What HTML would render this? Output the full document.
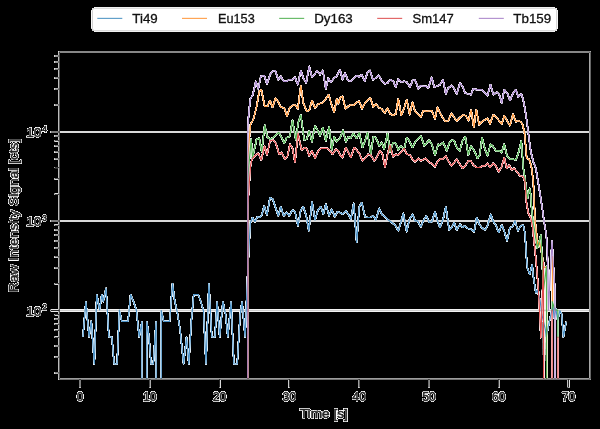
<!DOCTYPE html>
<html><head><meta charset="utf-8"><title>plot</title>
<style>
html,body{margin:0;padding:0;background:#000}
body{width:600px;height:429px;overflow:hidden}
svg{display:block}
text{font-family:"Liberation Sans",sans-serif;fill:#262626}
.c{fill:none;stroke-width:1.19;stroke-linejoin:round;stroke-linecap:butt}
.g{stroke:#cccccc;stroke-width:1.3}
.s{stroke:#262626;stroke-width:1.1;fill:none}
.M{stroke:#262626;stroke-width:1.2}
.m{stroke:#262626;stroke-width:0.95}
.u{stroke:#fff;fill:#fff;stroke-width:0.85;stroke-linejoin:round}
.o{stroke:#262626;stroke-width:0.6}
.l{fill:#111;stroke:#111;stroke-width:0.3}
</style></head><body>
<svg width="600" height="429" viewBox="0 0 600 429">
<defs>
<filter id="h" x="0" y="0" width="600" height="429" filterUnits="userSpaceOnUse" color-interpolation-filters="sRGB">
<feFlood flood-color="#fff" result="w"/>
<feComposite in="SourceGraphic" in2="w" operator="over" result="c"/>
<feComponentTransfer in="SourceGraphic" result="m"><feFuncA type="linear" slope="12" intercept="0"/></feComponentTransfer>
<feComposite in="c" in2="m" operator="in"/>
</filter>
<clipPath id="ax"><rect x="59.25" y="52.0" width="530.9" height="327.1"/></clipPath>
</defs>
<rect width="600" height="429" fill="#000"/>
<g filter="url(#h)">
<line class="g" x1="59.25" x2="590.15" y1="310.50" y2="310.50"/>
<line class="g" x1="59.25" x2="590.15" y1="221.00" y2="221.00"/>
<line class="g" x1="59.25" x2="590.15" y1="132.00" y2="132.00"/>
<g clip-path="url(#ax)">
<path class="c" stroke="#4a91c6" d="M82.9 337.0L85.9 301.5L87.6 321.0L89.1 337.0L91.3 321.0L94.3 364.0L96.8 294.5L99.6 310.0L101.8 294.5L103.2 301.6L106.0 288.3L108.9 337.0L111.8 337.0L114.2 364.0L117.1 364.0L119.4 310.0L121.8 321.4L128.0 321.4L130.6 294.5L133.5 301.6L136.4 310.2L139.2 337.0L141.9 321.5L141.9 400.0M146.8 400.0L146.8 321.5L149.0 337.0L151.0 364.0L153.3 364.0L156.1 321.5L156.1 400.0M161.2 400.0L161.2 310.5L163.8 321.4L169.6 321.4L172.5 283.5L174.6 300.0L177.4 313.0L180.1 330.0L183.6 364.0L186.5 337.0L188.8 364.0L191.3 321.4L193.7 294.6L198.3 294.6L200.8 301.6L203.5 311.0L206.0 364.0L208.9 283.5L211.8 337.0L214.9 337.0L217.1 301.6L219.7 337.0L222.9 301.6L225.5 313.8L227.8 337.0L231.0 301.6L233.9 364.0L237.2 364.0L240.1 315.0L242.1 301.6L245.1 337.0L247.7 272.0L250.3 223.0L252.5 217.5L255.0 221.7L257.5 216.7L260.0 217.5L261.7 215.0L264.2 205.8L267.0 215.0L270.0 197.5L272.8 199.2L275.8 208.3L278.3 215.8L280.8 206.7L283.7 215.8L286.7 212.5L289.2 215.8L292.5 210.0L295.0 211.7L298.0 225.8L300.8 210.0L303.3 206.7L306.3 215.8L308.8 230.8L312.0 201.7L315.0 220.0L318.0 210.0L320.8 206.7L323.3 214.2L325.8 204.2L329.2 215.8L331.7 209.2L334.7 216.7L337.5 211.7L340.0 212.5L342.5 214.2L345.8 210.8L348.3 214.2L350.8 219.2L353.7 203.3L356.7 242.5L359.2 206.7L361.7 202.5L365.0 216.7L367.5 217.5L370.0 217.5L373.3 215.8L375.8 220.0L379.2 208.3L381.7 214.2L385.0 216.7L388.3 220.0L391.7 222.5L395.0 225.0L398.3 230.8L400.8 222.5L403.3 213.3L406.7 231.7L409.2 220.0L412.5 214.2L415.0 220.8L417.5 220.8L420.8 226.7L423.3 220.8L426.3 215.8L429.2 222.5L431.7 221.7L435.0 211.7L437.5 220.8L440.0 227.5L443.3 218.3L445.8 206.7L449.2 230.0L451.7 227.5L454.2 222.5L456.7 230.0L460.0 224.2L462.5 227.5L465.0 225.8L467.5 228.3L470.8 229.2L474.2 231.7L476.7 217.5L479.2 224.2L481.7 227.5L485.0 230.0L487.5 225.8L490.8 214.2L493.3 221.7L495.8 225.0L498.7 232.5L501.7 225.0L504.2 230.8L507.0 240.8L510.0 227.5L512.5 226.7L515.0 220.8L518.0 230.8L520.8 225.8L523.3 225.0L525.0 233.3L525.8 246.7L526.7 260.8L527.5 268.3L529.7 274.2L532.2 264.7L533.3 276.0L535.8 293.0L537.2 290.0L540.1 300.2L541.8 314.2L545.3 329.3L546.2 337.0L549.4 321.4L552.9 305.4L554.1 317.7L555.8 308.3L557.6 320.0L559.9 310.7L561.7 314.2L563.4 337.0L566.1 321.8"/>
<path class="c" stroke="#ff983c" d="M247.8 400.0L247.8 158.0L250.5 124.3L253.3 119.7L256.7 106.3L259.2 91.3L261.3 89.7L264.7 106.3L267.5 106.3L270.0 100.5L272.5 107.2L275.5 98.0L278.3 102.2L280.8 107.2L284.2 108.0L287.0 116.3L289.5 108.0L292.5 105.5L295.0 104.7L297.8 108.8L300.8 85.5L303.3 103.0L306.7 111.3L309.2 110.5L312.0 100.5L315.0 108.0L318.3 103.8L322.5 103.0L325.8 98.8L328.7 94.7L331.3 103.8L334.2 112.2L336.7 98.8L338.3 103.8L340.0 98.0L342.5 96.3L345.5 108.8L348.3 106.3L350.8 104.7L353.3 105.5L356.7 102.2L359.2 101.3L362.0 108.8L365.0 103.0L368.0 99.7L370.5 98.0L373.3 107.2L375.8 103.8L379.2 108.0L381.7 108.8L384.7 113.0L387.5 108.0L390.0 113.8L393.3 115.5L395.8 113.8L398.3 98.8L401.3 115.5L404.2 108.0L406.7 99.7L409.7 114.7L412.5 102.2L415.0 111.3L418.3 114.7L420.8 117.2L423.3 110.5L426.7 111.3L431.7 110.5L435.0 118.8L437.5 107.2L440.0 113.0L442.5 117.5L445.4 121.5L448.3 120.7L451.5 113.2L454.2 117.5L456.7 121.0L460.0 117.5L463.3 114.8L465.8 115.8L468.5 120.6L471.1 109.8L473.8 127.4L476.3 109.5L479.2 124.8L482.0 121.5L484.7 120.0L487.5 118.2L490.0 124.0L493.3 114.8L496.7 117.5L499.2 121.0L501.7 124.0L504.2 115.6L507.5 121.5L510.0 125.6L513.0 114.0L515.8 121.6L518.3 120.7L520.8 121.8L522.5 124.5L524.2 131.0L525.0 138.3L526.7 158.3L529.2 159.2L530.3 163.0L531.7 168.3L533.3 181.7L534.2 201.7L535.0 220.0L537.9 246.3L539.6 242.6L542.6 258.0L543.4 266.9L546.5 267.7L546.6 400.0M552.5 302.0L552.5 256.5L552.6 302.0"/>
<path class="c" stroke="#50b150" d="M247.8 400.0L247.8 178.0L251.2 139.2L252.5 157.5L255.3 145.3L256.5 139.4L259.2 138.2L261.7 151.7L264.7 125.0L267.2 136.7L270.0 139.2L273.3 137.5L275.8 135.0L278.7 132.5L281.7 137.5L284.2 143.3L286.7 137.5L289.7 136.7L292.5 120.0L295.8 140.0L298.3 122.5L300.8 115.0L304.2 140.0L306.7 139.2L309.2 130.8L312.0 141.7L315.0 125.8L317.5 130.0L320.0 135.8L322.8 127.5L325.8 140.8L329.2 126.7L331.7 150.0L334.2 136.7L336.7 141.7L340.0 138.3L343.0 130.0L345.8 141.7L348.3 136.7L350.8 138.3L353.3 133.3L356.7 138.3L359.2 132.5L362.5 147.5L365.0 140.8L367.5 132.5L370.8 154.2L373.3 136.7L375.8 137.5L379.2 145.8L381.7 142.5L384.2 149.2L387.5 133.3L390.0 151.7L393.0 142.5L395.8 143.3L398.3 150.0L400.8 145.8L404.2 149.2L406.7 137.5L409.2 140.8L412.5 147.5L415.8 140.8L420.8 135.8L424.2 145.8L429.2 140.0L431.7 144.2L435.0 155.0L438.3 144.2L440.0 145.0L443.3 142.5L446.7 150.8L449.2 143.3L451.7 140.0L454.2 140.8L456.7 147.5L459.7 150.8L462.5 140.8L465.3 136.7L468.3 155.0L470.8 145.8L474.2 150.8L477.5 158.3L479.7 155.0L482.0 137.5L484.7 148.3L487.5 155.8L490.5 144.2L493.3 146.7L495.8 150.8L499.2 150.8L501.7 152.5L504.2 144.2L507.0 155.8L510.0 159.2L513.3 159.2L515.8 160.0L518.3 153.3L521.3 140.8L523.3 168.0L525.0 178.3L527.5 198.3L529.7 188.3L530.8 195.0L531.7 210.0L533.3 223.3L534.2 228.0L537.3 248.5L540.9 234.6L543.5 290.0L546.5 266.0L546.6 400.0M552.2 311.0L552.3 301.6L555.0 310.2L557.8 310.2L557.9 338.0"/>
<path class="c" stroke="#df4a4b" d="M247.8 400.0L247.8 205.0L250.5 166.0L251.7 160.0L253.3 157.5L255.8 155.0L258.3 153.3L261.3 160.0L264.5 146.0L267.0 155.0L270.0 140.8L273.3 140.0L275.8 143.3L279.2 154.2L281.7 152.5L285.0 159.2L287.5 156.0L290.0 144.2L292.5 148.3L295.0 162.5L298.0 133.3L299.8 142.0L301.7 150.0L305.0 147.5L306.9 149.0L309.2 155.8L312.0 150.8L315.0 158.3L318.3 150.8L320.8 148.3L323.5 148.3L327.5 148.3L330.0 150.8L332.5 154.2L335.8 149.2L338.3 150.8L340.0 155.0L342.5 157.5L345.8 147.5L348.3 152.5L350.8 157.5L354.2 147.5L356.7 150.0L359.7 154.2L362.5 160.8L365.0 158.3L368.3 154.2L370.8 155.0L374.2 160.8L376.7 157.5L380.0 150.8L382.5 154.2L385.0 167.5L387.5 154.2L390.0 145.0L393.0 156.7L395.8 154.2L398.3 155.0L400.8 152.5L404.2 148.3L406.7 154.2L410.0 155.0L412.5 159.2L415.0 161.7L418.3 158.3L420.8 160.8L425.8 158.3L429.2 162.5L431.7 163.3L435.0 166.7L437.5 161.7L440.0 158.8L443.0 159.2L445.8 155.8L448.3 160.8L451.3 165.8L454.2 162.5L456.7 159.2L459.7 164.2L462.5 168.3L465.3 165.8L468.3 160.8L470.8 160.8L473.3 165.0L476.7 167.5L480.0 167.5L482.5 165.8L485.0 165.8L487.5 163.3L490.0 167.5L493.0 163.3L495.8 165.8L498.7 171.7L501.7 166.7L504.2 157.5L506.7 168.3L509.2 165.0L511.7 170.0L514.2 168.3L517.5 172.5L520.0 175.8L523.3 176.7L525.0 181.7L526.3 201.7L528.3 213.3L530.8 218.3L532.5 226.7L535.8 258.3L538.3 288.0L540.9 337.6L543.5 262.0L543.6 400.0M552.1 400.0L552.1 310.2L552.1 400.0M557.9 400.0L557.9 337.0L558.0 400.0"/>
<path class="c" stroke="#a885cc" d="M247.8 400.0L247.8 129.0L248.5 116.9L249.5 106.8L250.3 99.0L252.5 95.5L254.2 88.8L255.8 81.3L258.3 88.8L260.8 76.3L264.2 75.5L267.0 83.8L270.0 74.7L272.5 71.3L275.3 70.5L278.3 79.7L280.8 76.3L283.7 81.3L286.7 81.3L289.2 79.7L292.5 79.7L295.0 77.2L297.8 84.7L300.8 70.5L303.3 78.0L306.2 83.0L309.2 66.3L312.0 77.2L314.5 74.7L317.0 70.5L320.0 74.7L322.8 70.5L325.8 88.8L328.3 78.0L330.8 82.2L334.2 78.0L336.7 76.3L340.0 69.7L342.5 79.7L345.0 73.0L348.0 80.5L350.8 81.3L353.3 78.8L356.7 75.5L359.2 77.2L361.7 74.7L364.7 81.3L367.5 72.2L370.0 70.5L373.0 79.7L375.8 78.0L378.7 75.5L381.7 80.5L385.0 83.8L387.5 83.0L390.5 79.7L393.3 81.3L395.8 87.2L398.3 78.8L401.3 82.2L404.2 81.3L406.7 82.2L410.0 87.2L412.5 80.5L415.0 79.7L418.3 88.8L420.8 85.5L423.3 86.3L425.8 86.3L428.3 88.0L431.7 77.2L434.2 87.2L436.7 86.3L440.0 84.7L443.0 79.7L445.8 93.8L448.3 88.0L451.7 85.5L454.2 88.8L456.7 93.8L460.0 83.0L462.5 86.3L465.0 93.0L467.5 93.8L470.8 94.7L473.3 88.8L476.7 89.7L481.7 89.7L485.0 93.0L487.5 95.5L490.5 84.7L493.3 94.7L496.7 92.2L499.2 94.7L501.7 103.0L504.2 89.7L507.5 93.8L510.0 100.5L512.8 93.8L515.8 89.7L518.3 97.2L521.2 93.8L522.8 98.0L524.5 106.3L526.7 120.0L528.3 133.3L530.8 151.7L533.3 161.7L535.8 168.3L537.5 178.3L540.0 193.3L542.5 210.0L544.2 222.5L546.3 234.6L547.3 250.0L548.0 281.0L548.5 310.2L552.0 240.5L553.5 268.0L554.9 290.0L555.0 400.0"/>
</g>
<line class="M" x1="80.00" x2="80.00" y1="379.1" y2="387.5"/>
<line class="M" x1="149.79" x2="149.79" y1="379.1" y2="387.5"/>
<line class="M" x1="219.58" x2="219.58" y1="379.1" y2="387.5"/>
<line class="M" x1="289.37" x2="289.37" y1="379.1" y2="387.5"/>
<line class="M" x1="359.16" x2="359.16" y1="379.1" y2="387.5"/>
<line class="M" x1="428.95" x2="428.95" y1="379.1" y2="387.5"/>
<line class="M" x1="498.74" x2="498.74" y1="379.1" y2="387.5"/>
<line class="M" x1="568.53" x2="568.53" y1="379.1" y2="387.5"/>
<line class="M" x1="50.65" x2="59.25" y1="310.50" y2="310.50"/>
<line class="M" x1="50.65" x2="59.25" y1="221.00" y2="221.00"/>
<line class="M" x1="50.65" x2="59.25" y1="132.00" y2="132.00"/>
<path class="m" d="M54.6 372.88H59.25M54.6 357.17H59.25M54.6 346.02H59.25M54.6 337.37H59.25M54.6 330.30H59.25M54.6 324.32H59.25M54.6 319.15H59.25M54.6 314.58H59.25M54.6 283.63H59.25M54.6 267.92H59.25M54.6 256.77H59.25M54.6 248.12H59.25M54.6 241.05H59.25M54.6 235.07H59.25M54.6 229.90H59.25M54.6 225.33H59.25M54.6 194.38H59.25M54.6 178.67H59.25M54.6 167.52H59.25M54.6 158.87H59.25M54.6 151.80H59.25M54.6 145.82H59.25M54.6 140.65H59.25M54.6 136.08H59.25M54.6 104.94H59.25M54.6 89.11H59.25M54.6 77.87H59.25M54.6 69.16H59.25M54.6 62.04H59.25M54.6 56.03H59.25"/>
<rect class="s" x="59.25" y="52.0" width="530.9" height="327.1"/>
<text class="u" x="76.70" y="401.4" font-size="12.8" textLength="6.6" lengthAdjust="spacingAndGlyphs">0</text><text class="o" x="76.70" y="401.4" font-size="12.8" textLength="6.6" lengthAdjust="spacingAndGlyphs">0</text>
<text class="u" x="142.99" y="401.4" font-size="12.8" textLength="13.6" lengthAdjust="spacingAndGlyphs">10</text><text class="o" x="142.99" y="401.4" font-size="12.8" textLength="13.6" lengthAdjust="spacingAndGlyphs">10</text>
<text class="u" x="212.78" y="401.4" font-size="12.8" textLength="13.6" lengthAdjust="spacingAndGlyphs">20</text><text class="o" x="212.78" y="401.4" font-size="12.8" textLength="13.6" lengthAdjust="spacingAndGlyphs">20</text>
<text class="u" x="282.57" y="401.4" font-size="12.8" textLength="13.6" lengthAdjust="spacingAndGlyphs">30</text><text class="o" x="282.57" y="401.4" font-size="12.8" textLength="13.6" lengthAdjust="spacingAndGlyphs">30</text>
<text class="u" x="352.36" y="401.4" font-size="12.8" textLength="13.6" lengthAdjust="spacingAndGlyphs">40</text><text class="o" x="352.36" y="401.4" font-size="12.8" textLength="13.6" lengthAdjust="spacingAndGlyphs">40</text>
<text class="u" x="422.15" y="401.4" font-size="12.8" textLength="13.6" lengthAdjust="spacingAndGlyphs">50</text><text class="o" x="422.15" y="401.4" font-size="12.8" textLength="13.6" lengthAdjust="spacingAndGlyphs">50</text>
<text class="u" x="491.94" y="401.4" font-size="12.8" textLength="13.6" lengthAdjust="spacingAndGlyphs">60</text><text class="o" x="491.94" y="401.4" font-size="12.8" textLength="13.6" lengthAdjust="spacingAndGlyphs">60</text>
<text class="u" x="561.73" y="401.4" font-size="12.8" textLength="13.6" lengthAdjust="spacingAndGlyphs">70</text><text class="o" x="561.73" y="401.4" font-size="12.8" textLength="13.6" lengthAdjust="spacingAndGlyphs">70</text>
<text class="u" x="26.3" y="315.60" font-size="12.8" textLength="15" lengthAdjust="spacingAndGlyphs">10</text><text class="o" x="26.3" y="315.60" font-size="12.8" textLength="15" lengthAdjust="spacingAndGlyphs">10</text><text class="u" x="42.2" y="310.10" font-size="8.6" textLength="4.7" lengthAdjust="spacingAndGlyphs">2</text><text class="o" x="42.2" y="310.10" font-size="8.6" textLength="4.7" lengthAdjust="spacingAndGlyphs">2</text>
<text class="u" x="26.3" y="226.35" font-size="12.8" textLength="15" lengthAdjust="spacingAndGlyphs">10</text><text class="o" x="26.3" y="226.35" font-size="12.8" textLength="15" lengthAdjust="spacingAndGlyphs">10</text><text class="u" x="42.2" y="220.85" font-size="8.6" textLength="4.7" lengthAdjust="spacingAndGlyphs">3</text><text class="o" x="42.2" y="220.85" font-size="8.6" textLength="4.7" lengthAdjust="spacingAndGlyphs">3</text>
<text class="u" x="26.3" y="137.10" font-size="12.8" textLength="15" lengthAdjust="spacingAndGlyphs">10</text><text class="o" x="26.3" y="137.10" font-size="12.8" textLength="15" lengthAdjust="spacingAndGlyphs">10</text><text class="u" x="42.2" y="131.60" font-size="8.6" textLength="4.7" lengthAdjust="spacingAndGlyphs">4</text><text class="o" x="42.2" y="131.60" font-size="8.6" textLength="4.7" lengthAdjust="spacingAndGlyphs">4</text>
<text class="u" x="299.8" y="418" font-size="12.8" textLength="48" lengthAdjust="spacingAndGlyphs">Time [s]</text><text class="o" x="299.8" y="418" font-size="12.8" textLength="48" lengthAdjust="spacingAndGlyphs">Time [s]</text>
<text class="u" transform="translate(18.3 292.3) rotate(-90)" font-size="12.8" textLength="153.6" lengthAdjust="spacingAndGlyphs">Raw Intensity Signal [cts]</text><text class="o" transform="translate(18.3 292.3) rotate(-90)" font-size="12.8" textLength="153.6" lengthAdjust="spacingAndGlyphs">Raw Intensity Signal [cts]</text>
<rect x="92.4" y="8.2" width="464.3" height="22.6" rx="2.4" ry="2.4" fill="#fff" stroke="#cccccc" stroke-width="1"/>
<line x1="97.3" x2="122.3" y1="18.4" y2="18.4" stroke="#62a0ca" stroke-width="1.19"/><text class="l" x="132.3" y="22.9" font-size="12.8" textLength="25.4" lengthAdjust="spacingAndGlyphs">Ti49</text>
<line x1="182.0" x2="207.0" y1="18.4" y2="18.4" stroke="#ffa556" stroke-width="1.19"/><text class="l" x="218.0" y="22.9" font-size="12.8" textLength="36.7" lengthAdjust="spacingAndGlyphs">Eu153</text>
<line x1="279.2" x2="304.2" y1="18.4" y2="18.4" stroke="#6bbc6b" stroke-width="1.19"/><text class="l" x="314.2" y="22.9" font-size="12.8" textLength="38.6" lengthAdjust="spacingAndGlyphs">Dy163</text>
<line x1="377.2" x2="402.2" y1="18.4" y2="18.4" stroke="#e26869" stroke-width="1.19"/><text class="l" x="412.5" y="22.9" font-size="12.8" textLength="41.3" lengthAdjust="spacingAndGlyphs">Sm147</text>
<line x1="478.8" x2="503.8" y1="18.4" y2="18.4" stroke="#b494d0" stroke-width="1.19"/><text class="l" x="513.3" y="22.9" font-size="12.8" textLength="37.9" lengthAdjust="spacingAndGlyphs">Tb159</text>
</g>
</svg>
</body></html>
